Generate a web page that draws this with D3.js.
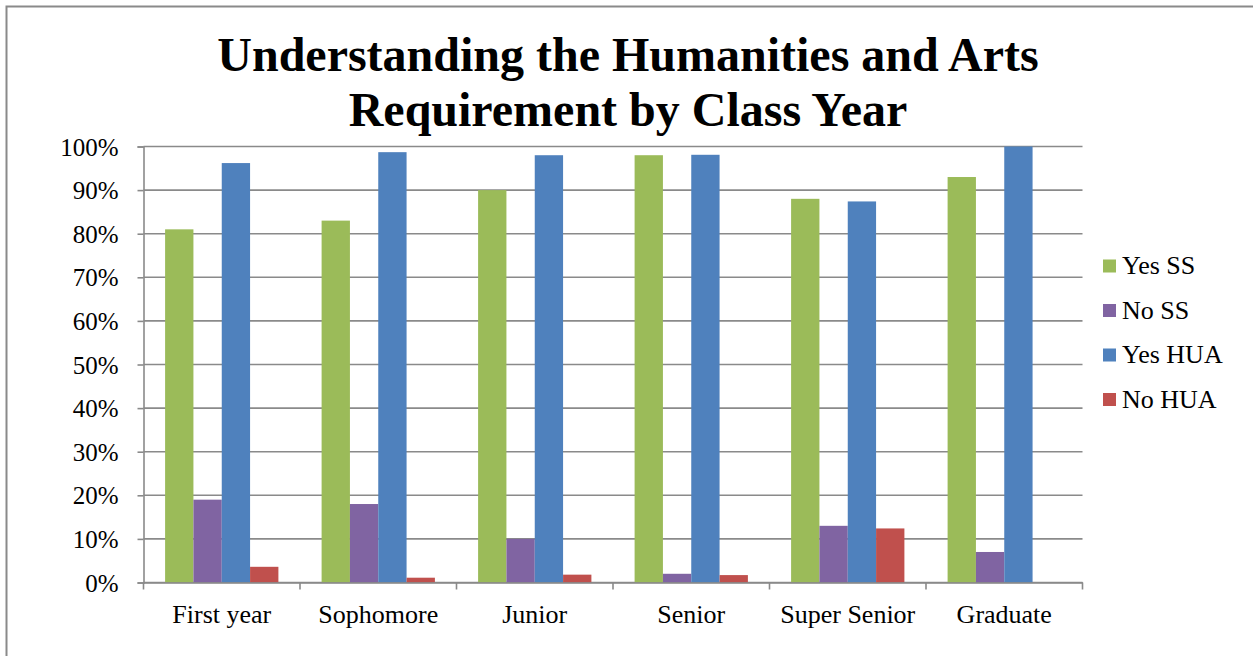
<!DOCTYPE html>
<html>
<head>
<meta charset="utf-8">
<script src="https://cdn.jsdelivr.net/npm/d3@7"></script>
<style>
  body { margin: 0; background: #fff; }
  svg text { font-family: "Liberation Serif", "Times New Roman", serif; fill: #000; }
</style>
</head>
<body>
<div id="main"></div>
<script>
// Chart data
var categories = ['First year', 'Sophomore', 'Junior', 'Senior', 'Super Senior', 'Graduate'];
var seriesNames = ['Yes SS', 'No SS', 'Yes HUA', 'No HUA'];
var yesSS  = [81, 83, 90, 98, 88, 93];
var noSS   = [19, 18, 10, 2, 13, 7];
var yesHUA = [96.2, 98.7, 98, 98.1, 87.4, 100];
var noHUA  = [3.6, 1.1, 1.8, 1.7, 12.4, 0];
var yTicks = [0, 10, 20, 30, 40, 50, 60, 70, 80, 90, 100];
var titleLines = ['Understanding the Humanities and Arts', 'Requirement by Class Year'];

var seriesColors = ['#9bbb59', '#8064a2', '#4f81bd', '#c0504d'];
var seriesValues = [yesSS, noSS, yesHUA, noHUA];

// Sizes
var svgWidth = 1253;
var svgHeight = 656;
var plot = {l: 143.5, r: 1082.5, t: 146.5, b: 582.5};
var gridColor = '#8a8a8a';
var serif = '"Liberation Serif", "Times New Roman", serif';

var svg = d3.select('#main')
	.append('svg')
	.attr('width', svgWidth)
	.attr('height', svgHeight);

// outer frame (only left and top edges show in the picture)
svg.append('path')
	.attr('d', 'M6.5,' + svgHeight + 'V6.5H' + svgWidth)
	.attr('fill', 'none')
	.attr('stroke', gridColor)
	.attr('stroke-width', 2);

// title
svg.append('text')
	.attr('x', 628)
	.attr('y', 71)
	.attr('text-anchor', 'middle')
	.style('font-family', serif)
	.style('font-size', '48px')
	.style('font-weight', 'bold')
	.selectAll('tspan')
	.data(titleLines)
	.enter()
	.append('tspan')
	.attr('x', 628)
	.attr('dy', function(d, i) { return i === 0 ? 0 : 55; })
	.text(function(d) { return d; });

// scales
var xScale = d3.scaleBand()
	.domain(categories)
	.range([plot.l, plot.r]);

var groupGap = 21.6;
var xInner = d3.scaleBand()
	.domain(seriesNames)
	.range([groupGap, xScale.bandwidth() - groupGap]);

var yScale = d3.scaleLinear()
	.domain([0, 100])
	.range([plot.b, plot.t]);

// gridlines
svg.append('g')
	.attr('class', 'grid')
	.selectAll('line')
	.data(yTicks)
	.enter()
	.append('line')
	.attr('x1', plot.l)
	.attr('x2', plot.r)
	.attr('y1', function(d) { return yScale(d); })
	.attr('y2', function(d) { return yScale(d); })
	.attr('stroke', gridColor)
	.attr('stroke-width', 1.6);

// y axis
var yAxis = d3.axisLeft(yScale)
	.tickValues(yTicks)
	.tickFormat(function(d) { return d + '%'; })
	.tickSize(6)
	.tickPadding(19);

var yAxisG = svg.append('g')
	.attr('transform', 'translate(' + plot.l + ',0)')
	.call(yAxis)
	.attr('font-family', serif);
yAxisG.select('.domain').attr('stroke', gridColor).attr('stroke-width', 1.6);
yAxisG.selectAll('.tick line').attr('stroke', gridColor).attr('stroke-width', 1.6);
yAxisG.selectAll('.tick text')
	.style('font-family', serif)
	.style('font-size', '25px')
	.attr('dy', '0.34em');

// bars
var groups = svg.append('g')
	.selectAll('g')
	.data(categories)
	.enter()
	.append('g')
	.attr('transform', function(d) { return 'translate(' + xScale(d) + ',0)'; });

groups.selectAll('rect')
	.data(function(d, ci) {
		return seriesNames.map(function(s, si) {
			return {series: s, value: seriesValues[si][ci], color: seriesColors[si]};
		});
	})
	.enter()
	.append('rect')
	.attr('x', function(d) { return xInner(d.series); })
	.attr('width', xInner.bandwidth())
	.attr('y', function(d) { return yScale(d.value); })
	.attr('height', function(d) { return yScale(0) - yScale(d.value); })
	.attr('fill', function(d) { return d.color; });

// x axis: line, ticks on category boundaries, labels at centres
var xAxis = d3.axisBottom(xScale).tickSize(0).tickPadding(22);
var xAxisG = svg.append('g')
	.attr('transform', 'translate(0,' + plot.b + ')')
	.call(xAxis)
	.attr('font-family', serif);
xAxisG.select('.domain').attr('stroke', gridColor).attr('stroke-width', 1.6);
xAxisG.selectAll('.tick text')
	.style('font-family', serif)
	.style('font-size', '26px');

var boundaries = categories.map(function(c) { return xScale(c); }).concat([xScale.range()[1]]);
xAxisG.selectAll('.boundary')
	.data(boundaries)
	.enter()
	.append('line')
	.attr('class', 'boundary')
	.attr('x1', function(d) { return d; })
	.attr('x2', function(d) { return d; })
	.attr('y1', 0)
	.attr('y2', 7)
	.attr('stroke', gridColor)
	.attr('stroke-width', 1.6);

// legend
var legend = svg.append('g')
	.attr('transform', 'translate(1103,266)')
	.selectAll('g')
	.data(seriesNames)
	.enter()
	.append('g')
	.attr('transform', function(d, i) { return 'translate(0,' + (i * 44.5) + ')'; });

legend.append('rect')
	.attr('x', 0)
	.attr('y', -6.5)
	.attr('width', 13)
	.attr('height', 13)
	.attr('fill', function(d, i) { return seriesColors[i]; });

legend.append('text')
	.attr('x', 19)
	.attr('y', 8)
	.style('font-family', serif)
	.style('font-size', '26px')
	.text(function(d) { return d; });
</script>
</body>
</html>
